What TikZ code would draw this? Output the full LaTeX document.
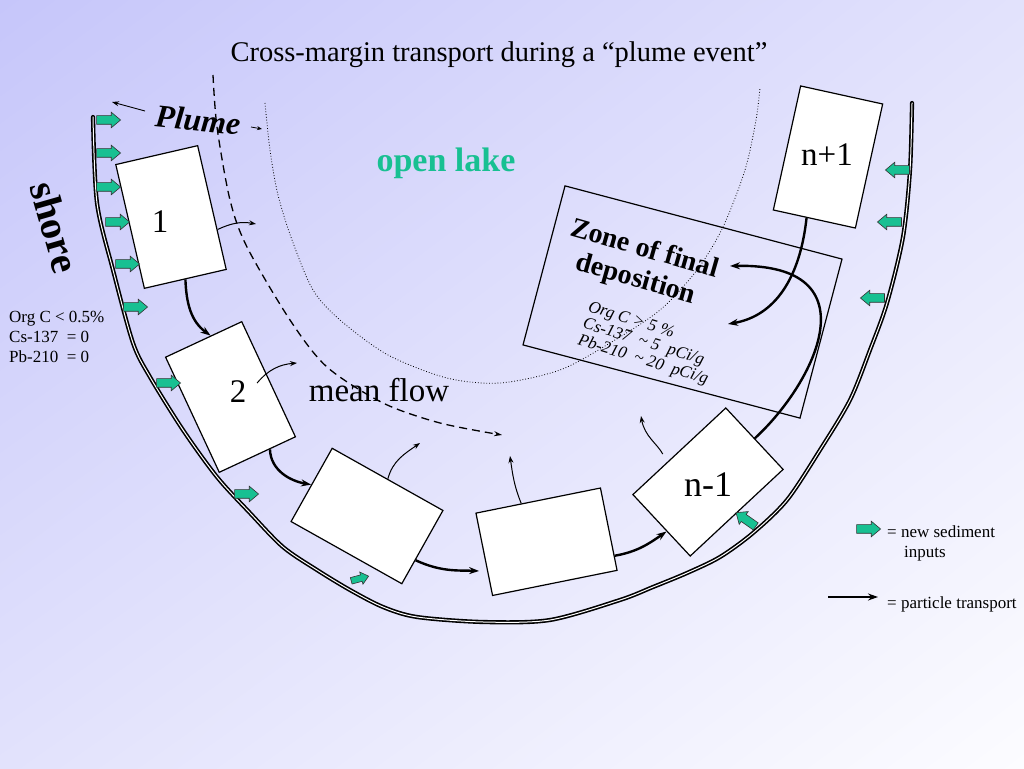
\documentclass[tikz,border=0pt]{standalone}
\usepackage{fontspec}
\setmainfont{Liberation Serif}
\usetikzlibrary{arrows.meta,shapes.arrows,shadings}
\definecolor{lakegreen}{RGB}{24,192,146}
\definecolor{bgtop}{RGB}{198,198,250}
\definecolor{bgmid}{RGB}{226,226,252}
\definecolor{bglow}{RGB}{252,252,255}
\tikzset{
  box/.style={draw, fill=white, line width=1.2pt, minimum width=84pt, minimum height=127pt, inner sep=0pt},
  inflow/.style={single arrow, draw=black!80, line width=0.6pt, fill=lakegreen, minimum height=24pt, minimum width=15pt, single arrow head extend=3.5pt, single arrow tip angle=80, inner sep=4pt},
  transport/.style={line width=2.4pt, -{Stealth[length=10pt,width=7pt]}},
  spill/.style={line width=1pt, -{Stealth[length=7pt,width=5pt]}},
  num/.style={font={\fontsize{33}{36}\selectfont}},
  small/.style={font={\fontsize{17}{20}\selectfont}, inner sep=0pt},
}

\begin{document}
\begin{tikzpicture}[x=1pt, y=1pt]
\shade[upper left=bgtop, upper right=bgmid, lower left=bgmid, lower right=bglow] (0,0) rectangle (1024,768);
\useasboundingbox (0,0) rectangle (1024,768);
% shore line
\draw[line width=1.6pt, double=white, double distance=1pt, line cap=round] plot[smooth] coordinates {(93,651) (97,565) (113,498) (133,425) (150,391) (183,338) (217,291) (250,255) (283,221) (317,198) (350,178) (383,161) (417,151) (483,146) (550,148) (620,168) (653,181) (687,195) (720,211) (753,235) (787,268) (820,318) (850,368) (870,418) (887,465) (903,531) (910,598) (912,665)};
% open lake limit and plume front
\draw[line width=0.8pt, dash pattern=on 0.8pt off 2pt] plot[smooth] coordinates {(265,665) (270,618) (278,573) (292,528) (313,478) (340,448) (388,413) (447,390) (500,385) (560,398) (610,425) (660,458) (697,498) (723,541) (745,598) (756,648) (760,680)};
\draw[line width=1.3pt, dash pattern=on 8pt off 5pt, -{Stealth[length=8pt,width=5pt]}] plot[smooth] coordinates {(213,693) (217,641) (230,568) (247,521) (290,448) (327,401) (383,365) (440,345) (502,333)};
% zone of final deposition
\node[draw, line width=1.2pt, minimum width=286.5pt, minimum height=164.5pt, rotate=-14.8] (zone) at (682.5,466) {};
% boxes
\node[box, rotate=13] (b1) at (171,551) {};
\node[box, rotate=25] (b2) at (230.5,371) {};
\node[box, rotate=60.7] (b3) at (367,252) {};
\node[box, rotate=-78.6] (b4) at (546.5,226.25) {};
\node[box, rotate=-47] (bn1) at (708,286) {};
\node[box, rotate=-12.4] (bn2) at (828,611) {};
\node[num] (l1) at (160,546) {1};
\node[num] (l2) at (238,376) {2};
\node[font={\fontsize{36}{40}\selectfont}] (ln1) at (708,283) {n-1};
\node[num] (ln2) at (827,613) {n+1};
% new sediment inputs
\node[inflow] (s1) at (106,648) {};
\node[inflow] (s2) at (106,615) {};
\node[inflow] (s3) at (106,581) {};
\node[inflow] (s4) at (115,546) {};
\node[inflow] (s5) at (125,504) {};
\node[inflow] (s6) at (133,461) {};
\node[inflow] (s7) at (166,385) {};
\node[inflow] (s8) at (244,274) {};
\node[inflow, minimum height=18pt, minimum width=12pt, single arrow head extend=3pt, inner sep=3pt, rotate=15] (s9) at (358,189) {};
\node[inflow, rotate=145] (s10) at (748,247) {};
\node[inflow, rotate=180] (s11) at (900,598) {};
\node[inflow, rotate=180] (s12) at (892,546) {};
\node[inflow, rotate=180] (s13) at (875,470) {};
% particle transport
\coordinate (dep1) at (730,502);
\coordinate (dep2) at (728,444);
\draw[transport] (b1.south) to[out=-88, in=144] (b2.83);
\draw[transport] (b2.-78) to[out=-88, in=170] (b3.north);
\draw[transport, shorten >=8pt] (b3.-103) to[out=-25, in=178] (b4.-75);
\draw[transport] (b4.67) to[out=10, in=-145] (bn1.-83);
\draw[transport] (bn1.north) .. controls (815,385) and (875,505) .. (dep1);
\draw[transport] (bn2.-97) .. controls (800,490) and (775,452) .. (dep2);
% loss to the lake
\coordinate (lk1) at (256,544);
\coordinate (lk2) at (297,405);
\coordinate (lk3) at (420,325);
\coordinate (lk4) at (510,312);
\coordinate (lk5) at (641,352);
\draw[spill] (b1.-28) to[out=25, in=170] (lk1);
\draw[spill] ([shift={(-12,-4)}]b2.east) to[out=50, in=185] (lk2);
\draw[spill] (b3.east) to[out=75, in=215] (lk3);
\draw[spill] (b4.202) to[out=112, in=-82] (lk4);
\draw[spill, shorten <=9pt] (bn1.201) to[out=118, in=-80] (lk5);
% texts
\node[font={\fontsize{28.5}{32}\selectfont}, anchor=base] (title) at (499,706) {Cross-margin transport during a “plume event”};
\node[font={\fontsize{32}{36}\selectfont\bfseries\itshape}, rotate=-6] (plume) at (198,648) {Plume};
\coordinate (pl1) at (145,657);
\coordinate (pl2) at (112,666);
\coordinate (pr1) at (251,641);
\coordinate (pr2) at (262,639);
\draw[line width=0.9pt, -{Stealth[length=7pt,width=5pt]}] (pl1) -- (pl2);
\draw[line width=0.8pt, -{Stealth[length=5pt,width=4pt]}] (pr1) -- (pr2);
\node[font={\fontsize{40}{44}\selectfont\bfseries}, rotate=-74] (shore) at (55,541) {shore};
\node[font={\fontsize{34}{38}\selectfont\bfseries}, text=lakegreen, anchor=base] (lake) at (446,596) {open lake};
\node[font={\fontsize{33}{36}\selectfont}, anchor=base] (flow) at (379,366) {mean flow};
\node[font={\fontsize{28}{31}\selectfont\bfseries}, align=center, rotate=-16] (zonetxt) at (640,503) {Zone of final\\deposition};
\node[font={\fontsize{17}{17.5}\selectfont\itshape}, align=left, rotate=-17] (zonedata) at (648,424) {Org C > 5 \%\\Cs-137\ \ \textasciitilde\ 5\ \ pCi/g\\Pb-210\ \ \textasciitilde\ 20\ \ pCi/g};
\node[small, align=left, anchor=north west] (shoredata) at (9,457) {Org C < 0.5\%\\Cs-137\ \ = 0\\Pb-210\ \ = 0};
% legend
\node[inflow] (key1) at (866,239) {};
\node[small, align=left, anchor=north west] (key1txt) at (887,242) {= new sediment\\\hspace*{17pt}inputs};
\coordinate (key2a) at (828,171);
\coordinate (key2b) at (878,171);
\draw[transport] (key2a) -- (key2b);
\node[small, anchor=base west] (key2txt) at (887,160) {= particle transport};
\end{tikzpicture}
\end{document}
